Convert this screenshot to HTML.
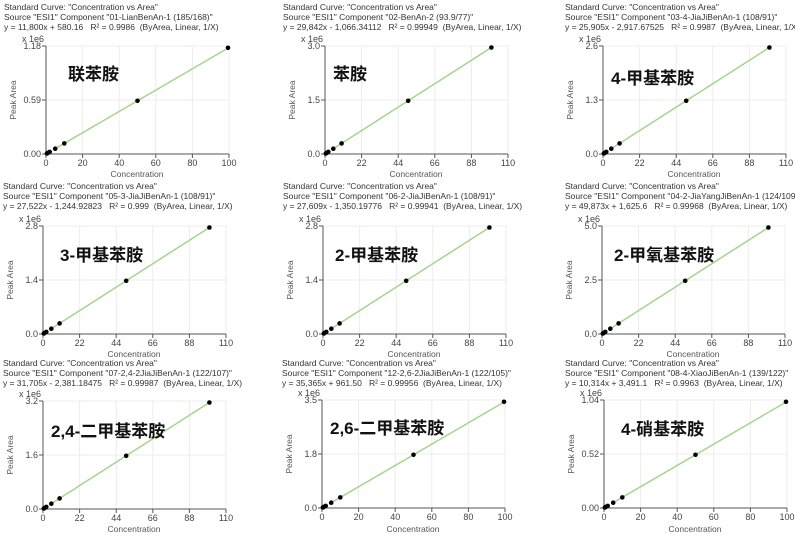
<!DOCTYPE html>
<html><head><meta charset="utf-8"><style>
body{margin:0;background:#fff}
svg{display:block}
text{font-family:"Liberation Sans","Noto Sans CJK SC",sans-serif;fill:#333}
.h{font-size:8.5px}
.t{font-size:9px;fill:#444}
.yl{font-size:8.5px;fill:#555}
.cn{font-size:17px;font-weight:bold;fill:#111}
</style></head><body>
<svg width="795" height="539" viewBox="0 0 795 539">
<defs>
<g id="grid">
<rect x="0" y="0" width="183" height="108" fill="#fff"/>
<g stroke="#ececec" stroke-width="1">
<line x1="36.6" y1="0" x2="36.6" y2="108"/><line x1="73.2" y1="0" x2="73.2" y2="108"/><line x1="109.8" y1="0" x2="109.8" y2="108"/><line x1="146.4" y1="0" x2="146.4" y2="108"/><line x1="183" y1="0" x2="183" y2="108"/>
<line x1="0" y1="0" x2="183" y2="0"/><line x1="0" y1="54" x2="183" y2="54"/>
</g>
<g stroke="#555" stroke-width="1">
<line x1="0" y1="0" x2="0" y2="108"/><line x1="0" y1="108" x2="183" y2="108"/>
<line x1="-4" y1="0" x2="0" y2="0"/><line x1="-4" y1="54" x2="0" y2="54"/><line x1="-4" y1="108" x2="0" y2="108"/>
<line x1="0" y1="108" x2="0" y2="112"/><line x1="36.6" y1="108" x2="36.6" y2="112"/><line x1="73.2" y1="108" x2="73.2" y2="112"/><line x1="109.8" y1="108" x2="109.8" y2="112"/><line x1="146.4" y1="108" x2="146.4" y2="112"/><line x1="183" y1="108" x2="183" y2="112"/>
</g>
</g>
<g id="d100">
<line x1="9.2" y1="102.7" x2="183" y2="1.5" stroke="#a5d48f" stroke-width="1.5"/>
<g fill="#000"><circle cx="0.9" cy="107.5" r="2.3"/><circle cx="1.8" cy="106.9" r="2.3"/><circle cx="3.7" cy="105.9" r="2.3"/><circle cx="9.2" cy="102.7" r="2.3"/><circle cx="18.3" cy="97.4" r="2.3"/><circle cx="91.5" cy="54.8" r="2.3"/><circle cx="182" cy="1.8" r="2.3"/></g>
</g>
<g id="d110">
<line x1="8.3" y1="102.7" x2="166.4" y2="1.5" stroke="#a5d48f" stroke-width="1.5"/>
<g fill="#000"><circle cx="0.8" cy="107.5" r="2.3"/><circle cx="1.7" cy="106.9" r="2.3"/><circle cx="3.3" cy="105.9" r="2.3"/><circle cx="8.3" cy="102.7" r="2.3"/><circle cx="16.6" cy="97.4" r="2.3"/><circle cx="83.2" cy="54.8" r="2.3"/><circle cx="166.4" cy="1.5" r="2.3"/></g>
</g>
<g id="x100"><text class="t" text-anchor="middle"><tspan x="0" y="120">0</tspan><tspan x="36.6" y="120">20</tspan><tspan x="73.2" y="120">40</tspan><tspan x="109.8" y="120">60</tspan><tspan x="146.4" y="120">80</tspan><tspan x="183" y="120">100</tspan></text></g>
</defs>

<!-- Row 1 -->
<g transform="translate(46,46)">
<text class="h" x="-42" y="-36">Standard Curve: "Concentration vs Area"</text>
<text class="h" x="-42" y="-26">Source "ESI1" Component "01-LianBenAn-1 (185/168)"</text>
<text class="h" x="-42" y="-16">y = 11,800x + 580.16 &#160;&#160;R² = 0.9986 &#160;(ByArea, Linear, 1/X)</text>
<use href="#grid"/><use href="#d100"/>
<text class="t" x="-24" y="-4">x 1e6</text>
<text class="t" text-anchor="end" x="-5" y="3">1.18</text><text class="t" text-anchor="end" x="-5" y="57">0.59</text><text class="t" text-anchor="end" x="-5" y="111">0.00</text>
<text class="t" text-anchor="middle"><tspan x="0" y="120">0</tspan><tspan x="36.6" y="120">20</tspan><tspan x="73.2" y="120">40</tspan><tspan x="109.8" y="120">60</tspan><tspan x="146.4" y="120">80</tspan><tspan x="183" y="120">100</tspan></text>
<text class="yl" text-anchor="middle" x="91" y="131">Concentration</text>
<text class="yl" text-anchor="middle" transform="translate(-30,54) rotate(-90)">Peak Area</text>
<text class="cn" x="22" y="34">联苯胺</text>
</g>
<g transform="translate(325,46)">
<text class="h" x="-42" y="-36">Standard Curve: "Concentration vs Area"</text>
<text class="h" x="-42" y="-26">Source "ESI1" Component "02-BenAn-2 (93.9/77)"</text>
<text class="h" x="-42" y="-16">y = 29,842x - 1,066.34112 &#160;&#160;R² = 0.99949 &#160;(ByArea, Linear, 1/X)</text>
<use href="#grid"/><use href="#d110"/>
<text class="t" x="-24" y="-4">x 1e6</text>
<text class="t" text-anchor="end" x="-5" y="3">3.0</text><text class="t" text-anchor="end" x="-5" y="57">1.5</text><text class="t" text-anchor="end" x="-5" y="111">0.0</text>
<text class="t" text-anchor="middle"><tspan x="0" y="120">0</tspan><tspan x="36.6" y="120">22</tspan><tspan x="73.2" y="120">44</tspan><tspan x="109.8" y="120">66</tspan><tspan x="146.4" y="120">88</tspan><tspan x="183" y="120">110</tspan></text>
<text class="yl" text-anchor="middle" x="91" y="131">Concentration</text>
<text class="yl" text-anchor="middle" transform="translate(-30,54) rotate(-90)">Peak Area</text>
<text class="cn" x="8" y="34">苯胺</text>
</g>
<g transform="translate(603,46)">
<text class="h" x="-38" y="-36">Standard Curve: "Concentration vs Area"</text>
<text class="h" x="-38" y="-26">Source "ESI1" Component "03-4-JiaJiBenAn-1 (108/91)"</text>
<text class="h" x="-38" y="-16">y = 25,905x - 2,917.67525 &#160;&#160;R² = 0.9987 &#160;(ByArea, Linear, 1/X)</text>
<use href="#grid"/><use href="#d110"/>
<text class="t" x="-24" y="-4">x 1e6</text>
<text class="t" text-anchor="end" x="-5" y="3">2.6</text><text class="t" text-anchor="end" x="-5" y="57">1.3</text><text class="t" text-anchor="end" x="-5" y="111">0.0</text>
<text class="t" text-anchor="middle"><tspan x="0" y="120">0</tspan><tspan x="36.6" y="120">22</tspan><tspan x="73.2" y="120">44</tspan><tspan x="109.8" y="120">66</tspan><tspan x="146.4" y="120">88</tspan><tspan x="183" y="120">110</tspan></text>
<text class="yl" text-anchor="middle" x="91" y="131">Concentration</text>
<text class="yl" text-anchor="middle" transform="translate(-30,54) rotate(-90)">Peak Area</text>
<text class="cn" x="8" y="38">4-甲基苯胺</text>
</g>

<!-- Row 2 -->
<g transform="translate(43,226)">
<text class="h" x="-40" y="-37">Standard Curve: "Concentration vs Area"</text>
<text class="h" x="-40" y="-27">Source "ESI1" Component "05-3-JiaJiBenAn-1 (108/91)"</text>
<text class="h" x="-40" y="-17">y = 27,522x - 1,244.92823 &#160;&#160;R² = 0.999 &#160;(ByArea, Linear, 1/X)</text>
<use href="#grid"/><use href="#d110"/>
<text class="t" x="-24" y="-4">x 1e6</text>
<text class="t" text-anchor="end" x="-5" y="3">2.8</text><text class="t" text-anchor="end" x="-5" y="57">1.4</text><text class="t" text-anchor="end" x="-5" y="111">0.0</text>
<text class="t" text-anchor="middle"><tspan x="0" y="120">0</tspan><tspan x="36.6" y="120">22</tspan><tspan x="73.2" y="120">44</tspan><tspan x="109.8" y="120">66</tspan><tspan x="146.4" y="120">88</tspan><tspan x="183" y="120">110</tspan></text>
<text class="yl" text-anchor="middle" x="91" y="131">Concentration</text>
<text class="yl" text-anchor="middle" transform="translate(-30,54) rotate(-90)">Peak Area</text>
<text class="cn" x="17" y="35">3-甲基苯胺</text>
</g>
<g transform="translate(323,226)">
<text class="h" x="-40" y="-37">Standard Curve: "Concentration vs Area"</text>
<text class="h" x="-40" y="-27">Source "ESI1" Component "06-2-JiaJiBenAn-1 (108/91)"</text>
<text class="h" x="-40" y="-17">y = 27,609x - 1,350.19776 &#160;&#160;R² = 0.99941 &#160;(ByArea, Linear, 1/X)</text>
<use href="#grid"/><use href="#d110"/>
<text class="t" x="-24" y="-4">x 1e6</text>
<text class="t" text-anchor="end" x="-5" y="3">2.8</text><text class="t" text-anchor="end" x="-5" y="57">1.4</text><text class="t" text-anchor="end" x="-5" y="111">0.0</text>
<text class="t" text-anchor="middle"><tspan x="0" y="120">0</tspan><tspan x="36.6" y="120">22</tspan><tspan x="73.2" y="120">44</tspan><tspan x="109.8" y="120">66</tspan><tspan x="146.4" y="120">88</tspan><tspan x="183" y="120">110</tspan></text>
<text class="yl" text-anchor="middle" x="91" y="131">Concentration</text>
<text class="yl" text-anchor="middle" transform="translate(-30,54) rotate(-90)">Peak Area</text>
<text class="cn" x="12" y="35">2-甲基苯胺</text>
</g>
<g transform="translate(602,226)">
<text class="h" x="-37" y="-37">Standard Curve: "Concentration vs Area"</text>
<text class="h" x="-37" y="-27">Source "ESI1" Component "04-2-JiaYangJiBenAn-1 (124/109)"</text>
<text class="h" x="-37" y="-17">y = 49,873x + 1,625.6 &#160;&#160;R² = 0.99968 &#160;(ByArea, Linear, 1/X)</text>
<use href="#grid"/><use href="#d110"/>
<text class="t" x="-24" y="-4">x 1e6</text>
<text class="t" text-anchor="end" x="-5" y="3">5.0</text><text class="t" text-anchor="end" x="-5" y="57">2.5</text><text class="t" text-anchor="end" x="-5" y="111">0.0</text>
<text class="t" text-anchor="middle"><tspan x="0" y="120">0</tspan><tspan x="36.6" y="120">22</tspan><tspan x="73.2" y="120">44</tspan><tspan x="109.8" y="120">66</tspan><tspan x="146.4" y="120">88</tspan><tspan x="183" y="120">110</tspan></text>
<text class="yl" text-anchor="middle" x="91" y="131">Concentration</text>
<text class="yl" text-anchor="middle" transform="translate(-30,54) rotate(-90)">Peak Area</text>
<text class="cn" x="12" y="35">2-甲氧基苯胺</text>
</g>

<!-- Row 3 -->
<g transform="translate(43,401)">
<text class="h" x="-40" y="-35">Standard Curve: "Concentration vs Area"</text>
<text class="h" x="-40" y="-25">Source "ESI1" Component "07-2,4-2JiaJiBenAn-1 (122/107)"</text>
<text class="h" x="-40" y="-15">y = 31,705x - 2,381.18475 &#160;&#160;R² = 0.99987 &#160;(ByArea, Linear, 1/X)</text>
<use href="#grid"/><use href="#d110"/>
<text class="t" x="-24" y="-4">x 1e6</text>
<text class="t" text-anchor="end" x="-5" y="3">3.2</text><text class="t" text-anchor="end" x="-5" y="57">1.6</text><text class="t" text-anchor="end" x="-5" y="111">0.0</text>
<text class="t" text-anchor="middle"><tspan x="0" y="120">0</tspan><tspan x="36.6" y="120">22</tspan><tspan x="73.2" y="120">44</tspan><tspan x="109.8" y="120">66</tspan><tspan x="146.4" y="120">88</tspan><tspan x="183" y="120">110</tspan></text>
<text class="yl" text-anchor="middle" x="91" y="131">Concentration</text>
<text class="yl" text-anchor="middle" transform="translate(-30,54) rotate(-90)">Peak Area</text>
<text class="cn" x="8" y="36">2,4-二甲基苯胺</text>
</g>
<g transform="translate(322,400)">
<text class="h" x="-40" y="-34">Standard Curve: "Concentration vs Area"</text>
<text class="h" x="-40" y="-24">Source "ESI1" Component "12-2,6-2JiaJiBenAn-1 (122/105)"</text>
<text class="h" x="-40" y="-14">y = 35,365x + 961.50 &#160;&#160;R² = 0.99956 &#160;(ByArea, Linear, 1/X)</text>
<use href="#grid"/><use href="#d100"/>
<text class="t" x="-24" y="-4">x 1e6</text>
<text class="t" text-anchor="end" x="-5" y="3">3.5</text><text class="t" text-anchor="end" x="-5" y="57">1.8</text><text class="t" text-anchor="end" x="-5" y="111">0.0</text>
<use href="#x100"/>
<text class="yl" text-anchor="middle" x="91" y="132">Concentration</text>
<text class="yl" text-anchor="middle" transform="translate(-30,54) rotate(-90)">Peak Area</text>
<text class="cn" x="8" y="34">2,6-二甲基苯胺</text>
</g>
<g transform="translate(604,400)">
<text class="h" x="-39" y="-34">Standard Curve: "Concentration vs Area"</text>
<text class="h" x="-39" y="-24">Source "ESI1" Component "08-4-XiaoJiBenAn-1 (139/122)"</text>
<text class="h" x="-39" y="-14">y = 10,314x + 3,491.1 &#160;&#160;R² = 0.9963 &#160;(ByArea, Linear, 1/X)</text>
<use href="#grid"/><use href="#d100"/>
<text class="t" x="-24" y="-4">x 1e6</text>
<text class="t" text-anchor="end" x="-5" y="3">1.04</text><text class="t" text-anchor="end" x="-5" y="57">0.52</text><text class="t" text-anchor="end" x="-5" y="111">0.00</text>
<use href="#x100"/>
<text class="yl" text-anchor="middle" x="91" y="132">Concentration</text>
<text class="yl" text-anchor="middle" transform="translate(-30,54) rotate(-90)">Peak Area</text>
<text class="cn" x="17" y="35">4-硝基苯胺</text>
</g>
</svg>
</body></html>
